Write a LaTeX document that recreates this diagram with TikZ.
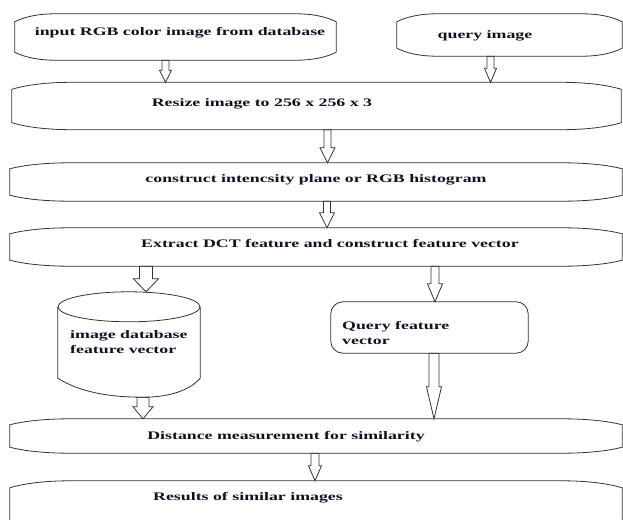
\documentclass[tikz,border=0pt]{standalone}
\usepackage{fontspec}
\setmainfont{Liberation Serif}
\newfontfamily\flowfont[FakeStretch=1.55]{Liberation Serif}
\usetikzlibrary{calc}
\definecolor{FlowLine}{HTML}{333333}
\definecolor{FlowText}{HTML}{111122}

\tikzset{
  scrollbox/.style={rectangle, inner sep=0pt},
  scrollline/.style={draw=FlowLine, line width=0.8pt},
  boxtext/.style={inner sep=0pt, text=FlowText, align=left,
    font=\flowfont\bfseries\fontsize{11.5}{15.5}\selectfont},
  % hollow block arrow: shaft width / head width / head length
  blockarrow/.style args={#1/#2/#3}{draw=FlowLine, fill=white, line width=0.8pt,
    to path={let \p1=(\tikztostart), \p2=(\tikztotarget) in
      ({\x1-0.5*#1pt},\y1) -- ({\x1-0.5*#1pt},{\y2+#3pt}) -- ({\x1-0.5*#2pt},{\y2+#3pt})
      -- (\x1,\y2) -- ({\x1+0.5*#2pt},{\y2+#3pt}) -- ({\x1+0.5*#1pt},{\y2+#3pt})
      -- ({\x1+0.5*#1pt},\y1) -- cycle}},
}

% outline with bowed top and bottom edges: node, bow length, bow depth
\newcommand\scrolloutline[3]{%
  \draw[scrollline] ($(#1.north west)+(0,#3)$)
    .. controls ($(#1.north west)+(0.25*#2,0.35*#3)$) and ($(#1.north west)+(0.6*#2,0)$) .. ($(#1.north west)+(#2,0)$)
    -- ($(#1.north east)+(-#2,0)$)
    .. controls ($(#1.north east)+(-0.6*#2,0)$) and ($(#1.north east)+(-0.25*#2,0.35*#3)$) .. ($(#1.north east)+(0,#3)$)
    -- ($(#1.south east)+(0,-#3)$)
    .. controls ($(#1.south east)+(-0.25*#2,-0.35*#3)$) and ($(#1.south east)+(-0.6*#2,0)$) .. ($(#1.south east)+(-#2,0)$)
    -- ($(#1.south west)+(#2,0)$)
    .. controls ($(#1.south west)+(0.6*#2,0)$) and ($(#1.south west)+(0.25*#2,-0.35*#3)$) .. ($(#1.south west)+(0,-#3)$)
    -- cycle;}

\begin{document}
\begin{tikzpicture}[x=1pt, y=-1pt]
    % =========================================
    % canvas 623 x 519, y runs downwards
    % =========================================
    \useasboundingbox (0,0) rectangle (623,519);
    \fill[white] (0,0) rectangle (623,519);
    \clip (0,0) rectangle (623,519);

    % =========================================
    % 1. boxes (frames only, outlines drawn last)
    % =========================================
    \node[scrollbox, minimum width=321, minimum height=46] (input) at (175.5,37) {};
    \node[scrollbox, minimum width=225, minimum height=42] (query) at (509.5,35) {};
    \node[scrollbox, minimum width=609, minimum height=47] (resize) at (316.5,106) {};
    \node[scrollbox, minimum width=612, minimum height=38] (intensity) at (316,182) {};
    \node[scrollbox, minimum width=612, minimum height=38] (extract) at (316,247) {};
    \node[scrollbox, minimum width=142, minimum height=105] (db) at (129,344.5) {};
    \node[scrollbox, minimum width=197, minimum height=51] (qfv) at (429.5,327.5) {};
    \node[scrollbox, minimum width=612, minimum height=34] (distance) at (316,436) {};
    \node[scrollbox, minimum width=612, minimum height=46] (results) at (316,504) {};

    % =========================================
    % 2. texts
    % =========================================
    \node[boxtext] (input-t) at (180,33) {input RGB color image from database};
    \node[boxtext] (query-t) at (485,36) {query image};
    \node[boxtext] (resize-t) at (262,104) {Resize image to 256 x 256 x 3};
    \node[boxtext] (intensity-t) at (316,180) {construct intencsity plane or RGB histogram};
    \node[boxtext] (extract-t) at (330,244) {Extract DCT feature and construct feature vector};
    \node[boxtext, anchor=west] (db-t) at (70,342) {image database\\feature vector};
    \node[boxtext, anchor=west] (qfv-t) at (342,333) {Query feature\\vector};
    \node[boxtext] (distance-t) at (286,437) {Distance measurement for similarity};
    \node[boxtext] (results-t) at (248,498) {Results of similar images};

    % =========================================
    % 3. hollow arrows
    % =========================================
    \draw[blockarrow=7/12/12] ([xshift=-10]input.south) to (resize.north);
    \draw[blockarrow=7/12/14] ([xshift=-19]query.south) to (resize.north);
    \draw[blockarrow=7/15/15] ([xshift=11]resize.south) to (intensity.north);
    \draw[blockarrow=7/15/15] ([xshift=11]intensity.south) to (extract.north);
    \draw[blockarrow=13/25/13] ([xshift=-170]extract.south) to (db.north);
    \draw[blockarrow=8/15/18] ([xshift=119]extract.south) to (qfv.north);
    \draw[blockarrow=12/20/12] ([xshift=14]db.south) to (distance.north);
    \draw[blockarrow=10/15/32] ([xshift=4.5]qfv.south) to (distance.north);
    \draw[blockarrow=8/13/15] ([xshift=-1]distance.south) to (results.north);

    % =========================================
    % 4. outlines
    % =========================================
    \scrolloutline{input}{40}{8}
    \scrolloutline{query}{40}{8}
    \scrolloutline{resize}{60}{7}
    \scrolloutline{intensity}{60}{6}
    \scrolloutline{extract}{60}{6}
    \scrolloutline{distance}{60}{6}
    \scrolloutline{results}{60}{7}
    \draw[scrollline, rounded corners=12pt] (qfv.north west) rectangle (qfv.south east);

    % cylinder for the database
    \draw[scrollline] ($(db.north)+(0,15)$) ellipse [x radius=71pt, y radius=15pt];
    \draw[scrollline] ($(db.north west)+(0,15)$) -- ($(db.south west)+(0,-19)$)
        .. controls ($(db.south west)+(22,-5)$) and ($(db.south west)+(52,0)$) .. ($(db.south west)+(85,0)$)
        .. controls ($(db.south west)+(112,0)$) and ($(db.south west)+(132,-7)$) .. ($(db.south east)+(0,-19)$)
        -- ($(db.north east)+(0,15)$);
\end{tikzpicture}
\end{document}
